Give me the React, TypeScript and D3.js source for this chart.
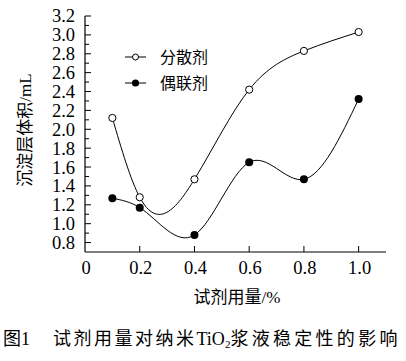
import React from 'react';
import * as d3 from 'd3';

// reagent dosage (%) and sediment volume (mL)
const dosage = [0.1, 0.2, 0.4, 0.6, 0.8, 1.0];
const dispersant = [2.12, 1.28, 1.47, 2.42, 2.83, 3.03];
const coupling = [1.27, 1.17, 0.88, 1.65, 1.47, 2.32];

const xTicks = [0, 0.2, 0.4, 0.6, 0.8, 1.0];
const yTicks = [0.8, 1.0, 1.2, 1.4, 1.6, 1.8, 2.0, 2.2, 2.4, 2.6, 2.8, 3.0, 3.2];
const seriesNames = ['分散剂', '偶联剂'];

const W = 406;
const H = 361;
const serif = '"Liberation Serif", "DejaVu Serif", serif';
const cjk = '"Noto Sans CJK SC", sans-serif';

// natural cubic spline parameterised by x (not by point index)
class NaturalX {
  _context: any;
  _x: number[] = [];
  _y: number[] = [];
  _line = NaN;
  constructor(context: any) {
    this._context = context;
  }
  areaStart() { this._line = 0; }
  areaEnd() { this._line = NaN; }
  lineStart() { this._x = []; this._y = []; }
  point(x: number, y: number) { this._x.push(+x); this._y.push(+y); }
  lineEnd() {
    const xs = this._x, ys = this._y, n = xs.length, c = this._context;
    if (!n) return;
    c.moveTo(xs[0], ys[0]);
    if (n === 2) { c.lineTo(xs[1], ys[1]); return; }
    const h: number[] = [], s: number[] = [];
    for (let i = 0; i < n - 1; i++) {
      h.push(xs[i + 1] - xs[i]);
      s.push((ys[i + 1] - ys[i]) / h[i]);
    }
    const M = new Array(n).fill(0);
    const m = n - 2;
    const cp: number[] = [], dp: number[] = [];
    for (let k = 0; k < m; k++) {
      const i = k + 1;
      const a = h[i - 1], b = 2 * (h[i - 1] + h[i]), cc = h[i];
      const d = 6 * (s[i] - s[i - 1]);
      if (k === 0) { cp.push(cc / b); dp.push(d / b); }
      else {
        const den = b - a * cp[k - 1];
        cp.push(cc / den);
        dp.push((d - a * dp[k - 1]) / den);
      }
    }
    for (let k = m - 1; k >= 0; k--) {
      M[k + 1] = dp[k] - (k < m - 1 ? cp[k] * M[k + 2] : 0);
    }
    for (let i = 0; i < n - 1; i++) {
      const d0 = s[i] - (h[i] * (2 * M[i] + M[i + 1])) / 6;
      const d1 = s[i] + (h[i] * (M[i] + 2 * M[i + 1])) / 6;
      c.bezierCurveTo(
        xs[i] + h[i] / 3, ys[i] + (d0 * h[i]) / 3,
        xs[i + 1] - h[i] / 3, ys[i + 1] - (d1 * h[i]) / 3,
        xs[i + 1], ys[i + 1]
      );
    }
  }
}
const curveNaturalX = (context: any) => new NaturalX(context) as any;

export default function App() {
  const x = d3.scaleLinear().domain([0, 1.1]).range([85, 386]);
  const y = d3.scaleLinear().domain([0.7, 3.2]).range([252, 16]);

  const line = d3.line<number>()
    .x((d, i) => x(dosage[i]))
    .y((d) => y(d))
    .curve(curveNaturalX);

  const minorTicks = d3.range(8, 33).map((v) => v / 10);

  return (
    <svg width={W} height={H} style={{ position: 'absolute', left: 0, top: 0, background: '#fff' }}>
      {/* axes */}
      <line x1={x(0)} x2={x(0)} y1={y(3.2)} y2={y(0.7)} stroke="#000" strokeWidth={1.2} />
      <line x1={x(0)} x2={x(1.1)} y1={y(0.7)} y2={y(0.7)} stroke="#000" strokeWidth={1.2} />
      {minorTicks.map((v) => {
        const major = Math.round(v * 10) % 2 === 0;
        return (
          <line key={'yt' + v} x1={x(0)} x2={x(0) + (major ? 6 : 4)} y1={y(v)} y2={y(v)} stroke="#000" strokeWidth={1} />
        );
      })}
      {yTicks.map((v) => (
        <text key={'yl' + v} x={75} y={y(v)} dy="0.35em" textAnchor="end" fontFamily={serif} fontSize={18.5}>
          {v.toFixed(1)}
        </text>
      ))}
      {xTicks.filter((v) => v > 0).map((v) => (
        <line key={'xt' + v} x1={x(v)} x2={x(v)} y1={y(0.7)} y2={y(0.7) - 6} stroke="#000" strokeWidth={1} />
      ))}
      {xTicks.map((v) => (
        <text key={'xl' + v} x={x(v) + 1} y={268} dy="0.35em" textAnchor="middle" fontFamily={serif} fontSize={18.5}>
          {v === 0 ? '0' : v.toFixed(1)}
        </text>
      ))}

      {/* axis titles */}
      <text x={237} y={297} dy="0.35em" textAnchor="middle" fontSize={17} fontFamily={cjk}>
        试剂用量<tspan fontFamily={serif}>/%</tspan>
      </text>
      <text transform={`translate(25,130) rotate(-90)`} dy="0.35em" textAnchor="middle" fontSize={17} fontFamily={cjk}>
        沉淀层体积<tspan fontFamily={serif}>/mL</tspan>
      </text>

      {/* curves */}
      <path d={line(dispersant) || ''} fill="none" stroke="#000" strokeWidth={1} />
      <path d={line(coupling) || ''} fill="none" stroke="#000" strokeWidth={1} />
      {dispersant.map((v, i) => (
        <circle key={'o' + i} cx={x(dosage[i])} cy={y(v)} r={3.6} fill="#fff" stroke="#000" strokeWidth={1} />
      ))}
      {coupling.map((v, i) => (
        <circle key={'f' + i} cx={x(dosage[i])} cy={y(v)} r={4} fill="#000" />
      ))}

      {/* legend */}
      {seriesNames.map((name, i) => {
        const ly = 57 + i * 26;
        return (
          <g key={name}>
            <line x1={125} x2={146} y1={ly} y2={ly} stroke="#000" strokeWidth={1} />
            {i === 0
              ? <circle cx={135.5} cy={ly} r={3} fill="#fff" stroke="#000" strokeWidth={1} />
              : <circle cx={135.5} cy={ly} r={3.6} fill="#000" />}
            <text x={160} y={ly} dy="0.35em" fontSize={16} fontFamily={cjk}>{name}</text>
          </g>
        );
      })}

      {/* caption */}
      <text x={3} y={339} dy="0.35em" fontSize={18} fontFamily={cjk}>
        图<tspan fontFamily={serif}>1</tspan>
      </text>
      <text x={53} y={339} dy="0.35em" fontSize={18} fontFamily={cjk}>
        <tspan letterSpacing={2.5}>试剂用量对纳米</tspan>
        <tspan fontFamily={serif}>TiO</tspan>
        <tspan fontFamily={serif} fontSize={11} dy="3">2</tspan>
        <tspan dy="-3" letterSpacing={3.3}>浆液稳定性的影响</tspan>
      </text>
    </svg>
  );
}
